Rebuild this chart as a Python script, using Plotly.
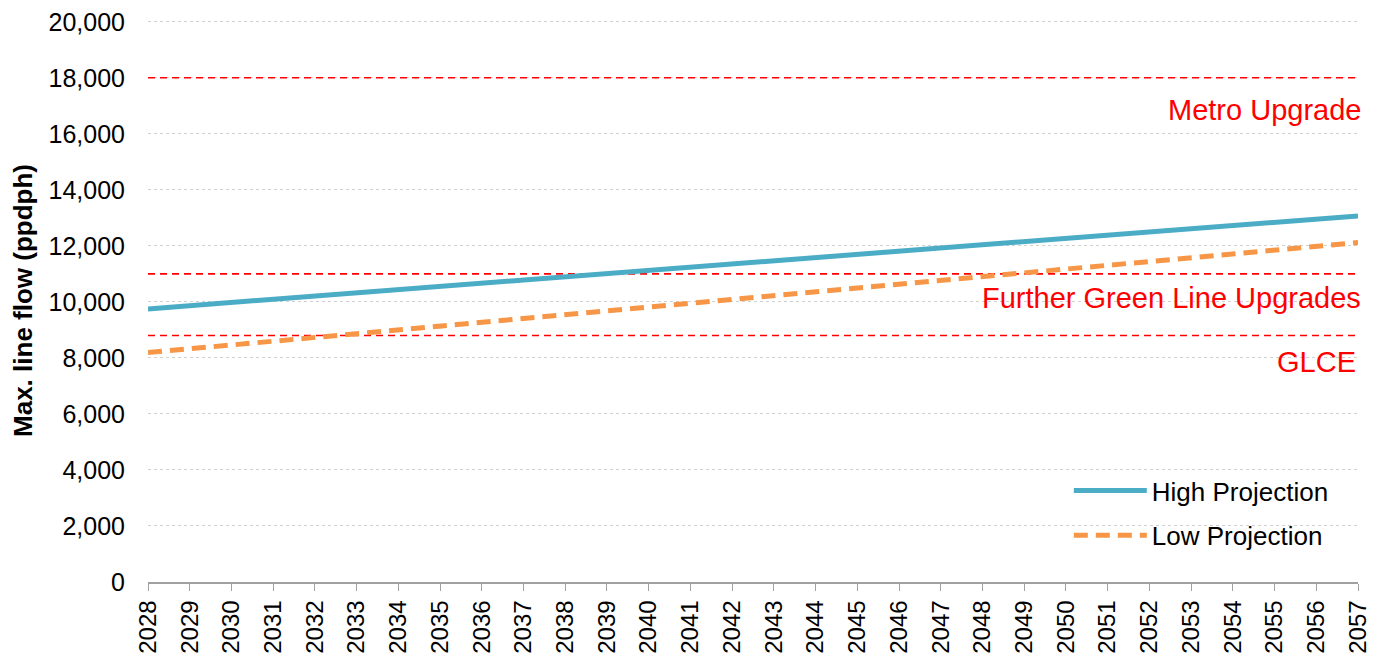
import plotly.graph_objects as go

years = list(range(2028, 2058))
high_projection = [9750, 9865, 9980, 10095, 10210, 10325, 10440, 10555, 10670, 10785,
                   10900, 11010, 11120, 11235, 11350, 11465, 11580, 11695, 11810, 11925,
                   12040, 12155, 12270, 12380, 12495, 12610, 12725, 12840, 12955, 13070]
low_projection = [8190, 8325, 8460, 8595, 8730, 8865, 9000, 9135, 9270, 9405,
                  9540, 9680, 9815, 9950, 10085, 10220, 10355, 10490, 10625, 10760,
                  10900, 11035, 11170, 11305, 11440, 11575, 11710, 11850, 11985, 12120]
thresholds = [18000, 11000, 8800]
threshold_labels = ["Metro Upgrade", "Further Green Line Upgrades", "GLCE"]
label_offsets = [-1140, -860, -945]
label_xshift = [5, 5, 0]
y_ticks = list(range(0, 20001, 2000))

font = "Liberation Sans, Arial, sans-serif"
fig = go.Figure()

for t in thresholds:
    fig.add_trace(go.Scatter(x=[years[0], years[-1]], y=[t, t], mode="lines",
                             line=dict(color="#FF0000", width=1.6, dash="7px,5px"),
                             showlegend=False, hoverinfo="skip"))

fig.add_trace(go.Scatter(x=years, y=high_projection, mode="lines", name="High Projection",
                         legendgroup="h", line=dict(color="#4BACC6", width=5)))
fig.add_trace(go.Scatter(x=years, y=low_projection, mode="lines", name="Low Projection",
                         legendgroup="l", line=dict(color="#F79646", width=5, dash="14px,8px")))

for t, lab, off, xs in zip(thresholds, threshold_labels, label_offsets, label_xshift):
    fig.add_annotation(x=years[-1], y=t + off, text=lab, showarrow=False,
                       xanchor="right", yanchor="middle", xshift=xs,
                       font=dict(family=font, size=29, color="#FF0000"))

fig.update_layout(
    width=1375, height=651,
    margin=dict(l=140, r=25, t=11, b=77),
    paper_bgcolor="white", plot_bgcolor="white",
    font=dict(family=font, size=24, color="black"),
    legend=dict(x=0.761, y=0.204, xanchor="left", yanchor="top",
                bgcolor="rgba(0,0,0,0)", font=dict(family=font, size=26),
                itemwidth=73, tracegroupgap=8),
    showlegend=True,
)
fig.update_xaxes(
    range=[years[0], years[-1]], tickmode="array", tickvals=years,
    ticktext=[str(y) for y in years], tickangle=-90,
    ticks="outside", ticklen=7, tickcolor="#A0A0A0",
    showline=True, linecolor="#A0A0A0", linewidth=1.5,
    showgrid=False, zeroline=False, tickfont=dict(size=24),
    automargin=False, ticklabeloverflow="allow",
)
fig.update_yaxes(
    range=[0, 20100], tickvals=y_ticks, tickformat=",", ticks="",
    ticklabelstandoff=22, ticklabeloverflow="allow",
    showgrid=True, gridcolor="#D0D0D0", griddash="dot", gridwidth=1,
    zeroline=False, showline=False, tickfont=dict(size=25),
    title=dict(text="<b>Max. line flow (ppdph)</b>", font=dict(size=26), standoff=22),
    automargin=False,
)

fig.write_html("out.html")
